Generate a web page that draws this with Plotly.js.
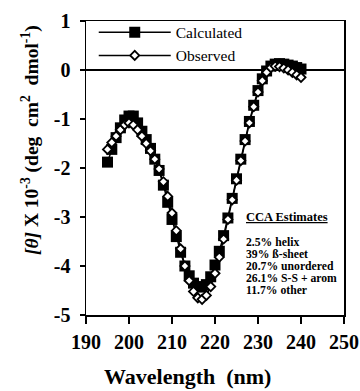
<!DOCTYPE html>
<html>
<head>
<meta charset="utf-8">
<script src="https://cdn.plot.ly/plotly-3.0.1.min.js"></script>
<style>html,body{margin:0;padding:0;background:#fff;}#chart{width:360px;height:391px;}</style>
</head>
<body>
<div id="chart"></div>
<script>
// Wavelength (nm)
var wavelength = [195,196,197,198,199,200,201,202,203,204,205,206,207,208,209,210,211,212,213,214,215,216,217,218,219,220,221,222,223,224,225,226,227,228,229,230,231,232,233,234,235,236,237,238,239,240];
// [theta] x 10^-3, calculated
var calculated = [-1.88,-1.62,-1.38,-1.18,-1.02,-0.94,-0.94,-1.08,-1.25,-1.42,-1.60,-1.82,-2.05,-2.35,-2.70,-3.05,-3.40,-3.72,-4.00,-4.20,-4.35,-4.42,-4.43,-4.38,-4.22,-3.98,-3.70,-3.38,-3.02,-2.62,-2.22,-1.82,-1.42,-1.05,-0.72,-0.42,-0.18,-0.02,0.08,0.12,0.13,0.12,0.10,0.08,0.05,0.02];
// [theta] x 10^-3, observed
var observed = [-1.62,-1.48,-1.35,-1.22,-1.12,-1.08,-1.12,-1.22,-1.35,-1.50,-1.65,-1.82,-2.02,-2.28,-2.58,-2.92,-3.28,-3.65,-4.00,-4.30,-4.52,-4.65,-4.68,-4.60,-4.42,-4.15,-3.82,-3.45,-3.05,-2.65,-2.25,-1.85,-1.45,-1.08,-0.75,-0.45,-0.22,-0.05,0.05,0.08,0.07,0.04,0.00,-0.05,-0.10,-0.15];
var seriesNames = ["Calculated", "Observed"];
var xTicks = [190,200,210,220,230,240,250];
var yTicks = [-5,-4,-3,-2,-1,0,1];
var estimatesTitle = "CCA Estimates";
var estimates = ["2.5% helix","39% ß-sheet","20.7% unordered","26.1% S-S + arom","11.7% other"];

var serif = "Liberation Serif";

var traces = [
  {x: wavelength, y: calculated, name: seriesNames[0], mode: "lines+markers", type: "scatter",
   line: {color: "#000", width: 1.5},
   marker: {symbol: "square", size: 11, color: "#000"}},
  {x: wavelength, y: observed, name: seriesNames[1], mode: "lines+markers", type: "scatter",
   line: {color: "#000", width: 1.5},
   marker: {symbol: "diamond", size: 7, color: "#fff", line: {color: "#000", width: 1.8}}}
];

var annots = [
  {xref: "paper", yref: "paper", x: -0.217, y: 0.595, xanchor: "center", yanchor: "middle",
   textangle: -90, showarrow: false,
   text: "<b><i>[θ]</i> X 10<sup>-3</sup> (deg  cm<sup>2</sup>  dmol<sup>-1</sup>)</b>",
   font: {family: serif, size: 19.5, color: "#000"}},
  {xref: "paper", yref: "paper", x: 0.395, y: -0.21, xanchor: "center", yanchor: "middle",
   showarrow: false, text: "<b>Wavelength  (nm)</b>",
   font: {family: serif, size: 22, color: "#000"}},
  {xref: "paper", yref: "paper", x: 0.612, y: 0.333, xanchor: "left", yanchor: "middle",
   showarrow: false, text: "<b><u>" + estimatesTitle + "</u></b>",
   font: {family: serif, size: 12.5, color: "#000"}}
];
for (var i = 0; i < estimates.length; i++) {
  annots.push({xref: "paper", yref: "paper", x: 0.612, y: 0.248 - i * 0.041, xanchor: "left", yanchor: "middle",
    showarrow: false, text: "<b>" + estimates[i] + "</b>",
    font: {family: serif, size: 11.7, color: "#000"}});
}

var layout = {
  width: 360, height: 391,
  margin: {l: 86, r: 16, t: 21, b: 76},
  paper_bgcolor: "#fff", plot_bgcolor: "#fff",
  font: {family: serif, color: "#000"},
  showlegend: true,
  legend: {x: 0.03, y: 1.018, xanchor: "left", yanchor: "top", bgcolor: "rgba(0,0,0,0)",
           itemwidth: 72, tracegroupgap: 0,
           font: {family: serif, size: 15.5, color: "#000"}},
  xaxis: {range: [190, 250], tickvals: xTicks, ticktext: xTicks.map(function(v){return "<b>" + v + "</b>";}),
          ticks: "outside", ticklen: 7, tickwidth: 1.5, tickcolor: "#000",
          showline: true, linecolor: "#000", linewidth: 1.5, mirror: true,
          showgrid: false, zeroline: false, ticklabelstandoff: 1,
          tickfont: {family: serif, size: 20, color: "#000", weight: "bold"}},
  yaxis: {range: [-5, 1], tickvals: yTicks, ticktext: yTicks.map(function(v){return "<b>" + v + "</b>";}),
          ticks: "outside", ticklen: 5, tickwidth: 1.5, tickcolor: "#000",
          showline: true, linecolor: "#000", linewidth: 1.5, mirror: true,
          showgrid: false, zeroline: true, zerolinecolor: "#000", zerolinewidth: 1.5,
          ticklabelstandoff: 5,
          tickfont: {family: serif, size: 20, color: "#000", weight: "bold"}},
  annotations: annots
};

Plotly.newPlot("chart", traces, layout, {displayModeBar: false, staticPlot: true});
</script>
</body>
</html>
